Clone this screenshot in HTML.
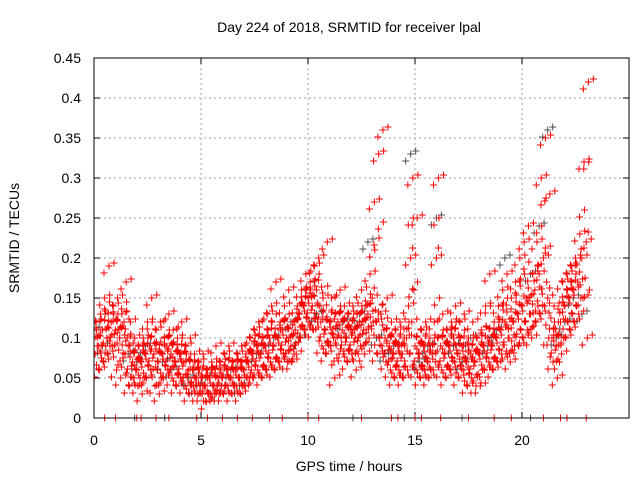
<!DOCTYPE html>
<html><head><meta charset="utf-8"><style>
body{margin:0;background:#fff;}
svg{display:block;font-family:"Liberation Sans",sans-serif;}
</style></head><body>
<svg id="chart" width="640" height="480" viewBox="0 0 640 480"></svg>
<script>
const hoursA = [0,0.2,0.4,0.6,0.8,1,1.2,1.4,1.6,1.8,2,2.2,2.4,2.6,2.8,3,3.2,3.4,3.6,3.8,4,4.2,4.4,4.6,4.8,5,5.2,5.4,5.6,5.8,6,6.2,6.4,6.6,6.8,7,7.2,7.4,7.6,7.8,8,8.2,8.4,8.6,8.8,9,9.2,9.4,9.6,9.8,10,10.2,10.4,10.6,10.8,11,11.2,11.4,11.6,11.8,12,12.2,12.4,12.6,12.8,13,13.2,13.4,13.6,13.8,14,14.2,14.4,14.6,14.8,15,15.2,15.4,15.6,15.8,16,16.2,16.4,16.6,16.8,17,17.2,17.4,17.6,17.8,18,18.2,18.4,18.6,18.8,19,19.2,19.4,19.6,19.8,20,20.2,20.4,20.6,20.8,21,21.2,21.4,21.6,21.8,22,22.2,22.4,22.6,22.8,23];
const redMid = [.10,.09,.11,.10,.12,.11,.10,.12,.09,.07,.06,.07,.08,.09,.08,.07,.08,.09,.08,.07,.08,.07,.06,.06,.05,.05,.04,.05,.04,.05,.05,.06,.05,.06,.05,.06,.07,.08,.09,.08,.09,.10,.09,.10,.11,.10,.09,.11,.13,.14,.15,.14,.16,.12,.11,.12,.10,.12,.11,.10,.11,.10,.12,.11,.13,.15,.12,.13,.10,.09,.08,.09,.08,.10,.20,.09,.08,.09,.07,.08,.20,.09,.08,.09,.10,.08,.09,.07,.08,.07,.08,.09,.10,.09,.10,.11,.12,.10,.12,.13,.14,.15,.13,.16,.18,.20,.15,.10,.09,.12,.14,.15,.16,.17,.20,.22];
const redHigh = [.12,.13,.15,.19,.14,.15,.13,.17,.12,.10,.09,.10,.12,.15,.11,.12,.10,.13,.11,.10,.12,.09,.10,.08,.07,.08,.06,.07,.09,.07,.08,.09,.07,.08,.09,.08,.10,.11,.12,.10,.13,.14,.17,.12,.14,.16,.12,.14,.16,.18,.17,.19,.20,.15,.22,.15,.13,.16,.14,.13,.14,.13,.16,.14,.18,.27,.33,.36,.15,.12,.11,.12,.10,.14,.30,.25,.11,.12,.10,.12,.30,.13,.11,.12,.14,.12,.13,.10,.12,.10,.11,.14,.18,.12,.14,.16,.18,.15,.17,.20,.22,.24,.18,.22,.30,.35,.28,.14,.12,.17,.18,.19,.20,.23,.32,.42];
const redLow = [.08,.06,.07,.08,.09,.06,.05,.08,.04,.05,.04,.03,.05,.06,.04,.03,.05,.06,.05,.04,.05,.04,.03,.04,.03,.03,.02,.03,.03,.03,.03,.04,.03,.04,.03,.04,.05,.05,.06,.05,.06,.07,.06,.07,.08,.07,.07,.08,.10,.11,.12,.11,.12,.09,.08,.09,.05,.08,.08,.07,.08,.06,.09,.08,.10,.12,.08,.09,.07,.06,.05,.06,.05,.06,.12,.06,.05,.06,.05,.06,.10,.06,.05,.06,.07,.05,.06,.04,.05,.04,.04,.06,.07,.06,.07,.08,.08,.07,.09,.09,.10,.11,.10,.12,.13,.14,.10,.07,.05,.08,.10,.11,.12,.13,.15,.10];
const hoursGray = [0,0.4,0.8,1.2,1.6,2,2.4,2.8,3.2,3.6,4,4.4,4.8,5.2,5.6,6,6.4,6.8,7.2,7.6,8,8.4,8.8,9.2,9.6,10,10.4,10.8,11.2,11.6,12,12.4,12.8,13.2,13.6,14,14.4,14.8,15.2,15.6,16,16.4,16.8,17.2,17.6,18,18.4,18.8,19.2,19.6,20,20.4,20.8,21.2,21.6,22,22.4,22.8];
const grayVals = [.11,.09,.12,.10,.08,.07,.09,.08,.07,.06,.08,.05,.04,.05,.04,.05,.06,.04,.07,.08,.09,.10,.11,.12,.10,.15,.13,.11,.10,.12,.11,.13,.22,.10,.08,.09,.08,.33,.07,.09,.25,.08,.09,.07,.10,.08,.09,.11,.20,.12,.14,.18,.24,.36,.10,.12,.15,.13];
const redZeroHours = [0.5,1,2,2.2,2.9,3.5,4.8,5.3,6,6.7,7.4,8.2,8.8,10,10.5,12.5,13.9,14.2,15,15.3,16.2,17.5,18.7,19.5,21,21.8,22.1,23];
const grayZeroHours = [1.9,3.3,12.1,14.5,17.2,20.4];
const xTicks = [0,5,10,15,20];
const yTicks = [0,0.05,0.1,0.15,0.2,0.25,0.3,0.35,0.4,0.45];
const yTickLabels = ["0","0.05","0.1","0.15","0.2","0.25","0.3","0.35","0.4","0.45"];

const L=94,R=629,T=58,B=418,XMAX=25,YMAX=0.45;
const xs=h=>L+h/XMAX*(R-L);
const ys=v=>B-v/YMAX*(B-T);
const svg=document.getElementById('chart');
const NS='http://www.w3.org/2000/svg';
function mk(tag,attrs,parent){const e=document.createElementNS(NS,tag);for(const k in attrs)e.setAttribute(k,attrs[k]);(parent||svg).appendChild(e);return e;}

const grid=mk('g',{});


xTicks.forEach(t=>{ if(t>0){mk('line',{x1:xs(t),x2:xs(t),y1:T,y2:B,stroke:'#a0a0a0','stroke-dasharray':'2,3'},grid);}
 const tx=mk('text',{x:xs(t),y:B+27,'text-anchor':'middle','font-size':14,fill:'#000'});
 
 
 tx.textContent=t;
 mk('line',{x1:xs(t),x2:xs(t),y1:B,y2:B-6,stroke:'#000'});
 mk('line',{x1:xs(t),x2:xs(t),y1:T,y2:T+6,stroke:'#000'});
});
yTicks.forEach((t,i)=>{ if(t>0&&t<YMAX-1e-9){mk('line',{x1:L,x2:R,y1:ys(t),y2:ys(t),stroke:'#a0a0a0','stroke-dasharray':'2,3'},grid);}
 const tx=mk('text',{x:L-13,y:ys(t)+5,'text-anchor':'end','font-size':14,fill:'#000'});
 
 
 tx.textContent=yTickLabels[i];
 mk('line',{x1:L,x2:L+6,y1:ys(t),y2:ys(t),stroke:'#000'});
 mk('line',{x1:R,x2:R-6,y1:ys(t),y2:ys(t),stroke:'#000'});
});

const clip=mk('clipPath',{id:'pc'});mk('rect',{x:L,y:T,width:R-L,height:B-T},clip);
// each data value is rendered as a small cluster of "+" markers (pixel offsets) to mimic the dense sampling
const cluster=[[0,0],[-5,7],[5,-3],[2,-10],[-3,-5],[4,9]];
function plus(g,h,v,col,n){const x0=xs(h),y0=ys(v);
 let d='';
 for(let k=0;k<n;k++){const x=x0+cluster[k][0],y=y0+cluster[k][1];d+=`M${x-3.5},${y}h7M${x},${y-3.5}v7`;}
 mk('path',{d:d,stroke:col,'stroke-width':1,fill:'none'},g);}
const gGray=mk('g',{'clip-path':'url(#pc)'});


hoursGray.forEach((h,i)=>plus(gGray,h,grayVals[i],'#505050',3));
const gRed=mk('g',{'clip-path':'url(#pc)'});


hoursA.forEach((h,i)=>{plus(gRed,h,redMid[i],'#ff0000',4);plus(gRed,h+0.1,redHigh[i],'#ff0000',3);plus(gRed,h+0.05,redLow[i],'#ff0000',3);plus(gRed,h+0.15,(redMid[i]+redLow[i])/2,'#ff0000',2);plus(gRed,h+0.12,(redMid[i]+redHigh[i])/2,'#ff0000',2);});
const gZero=mk('g',{});


grayZeroHours.forEach(h=>plus(gZero,h,0,'#505050',1));
redZeroHours.forEach(h=>plus(gZero,h,0,'#ff0000',1));

const frame=mk('rect',{x:L,y:T,width:R-L,height:B-T,fill:'none',stroke:'#000','stroke-width':1});


const title=mk('text',{x:349,y:32,'text-anchor':'middle','font-size':14});


title.textContent='Day 224 of 2018, SRMTID for receiver lpal';
const xl=mk('text',{x:349,y:471,'text-anchor':'middle','font-size':14});


xl.textContent='GPS time / hours';
const yl=mk('text',{x:0,y:0,'text-anchor':'middle','font-size':14,transform:'translate(19,238) rotate(-90)'});


yl.textContent='SRMTID / TECUs';
</script>
</body></html>
